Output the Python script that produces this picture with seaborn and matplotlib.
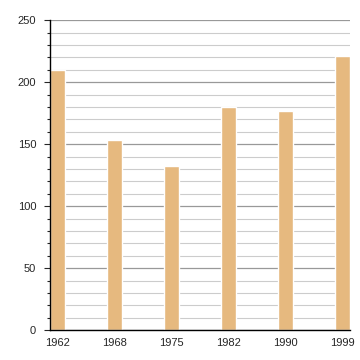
import matplotlib
matplotlib.use("Agg")
import matplotlib.pyplot as plt
import seaborn as sns
import pandas as pd
from matplotlib.ticker import MultipleLocator

years = ["1962", "1968", "1975", "1982", "1990", "1999"]
values = [210, 153, 132, 180, 177, 221]

df = pd.DataFrame({"year": years, "value": values})

sns.set_style("white")
plt.rcParams['font.family'] = ['Liberation Sans', 'DejaVu Sans']

fig = plt.figure(figsize=(3.6, 3.6), dpi=100)
ax = fig.add_axes([0.139, 0.083, 0.833, 0.861])
sns.barplot(data=df, x="year", y="value", color="#e6b97f", width=0.27,
            saturation=1, ax=ax, zorder=3)
ax.set_xlim(-0.135, 5.135)
ax.set_ylim(0, 250)
ax.yaxis.set_major_locator(MultipleLocator(50))
ax.yaxis.set_minor_locator(MultipleLocator(10))
ax.grid(axis="y", which="major", color="#999999", linewidth=0.9, zorder=0)
ax.grid(axis="y", which="minor", color="#cccccc", linewidth=0.8, zorder=0)
ax.set_axisbelow(True)
for s in ["top", "right"]:
    ax.spines[s].set_visible(False)
for s in ["left", "bottom"]:
    ax.spines[s].set_color("black")
    ax.spines[s].set_linewidth(1.0)
    ax.spines[s].set_zorder(4)
ax.tick_params(axis="y", which="major", left=True, length=4, width=0.8, labelsize=8, pad=6)
ax.tick_params(axis="y", which="minor", left=True, length=2.5, width=0.8)
ax.tick_params(axis="x", bottom=False, labelsize=8, pad=2)
ax.set_xlabel("")
ax.set_ylabel("")
fig.savefig("out.png", dpi=100)
